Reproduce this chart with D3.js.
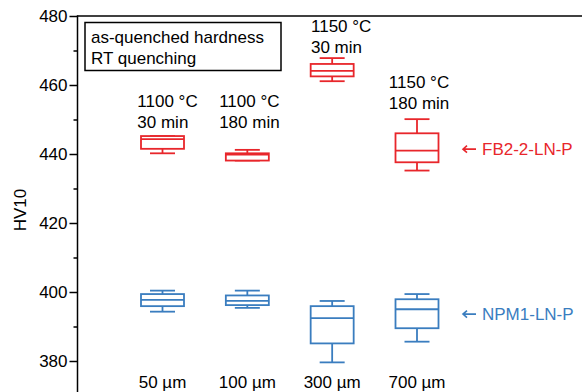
<!DOCTYPE html>
<meta charset="utf-8">
<script src="https://d3js.org/d3.v7.min.js"></script>
<style>
  body { margin: 0; background: #fff; }
  text { font-family: "Liberation Sans", Arial, sans-serif; }
</style>
<body>
<svg width="582" height="392"></svg>
<script>

    // grain size categories along x
    var groups = ["50 µm", "100 µm", "300 µm", "700 µm"];

    // heat treatment labels above the red boxes, and the HV level of the first line
    var condTemp = ["1100 °C", "1100 °C", "1150 °C", "1150 °C"];
    var condTime = ["30 min", "180 min", "30 min", "180 min"];
    var condLevel = [453.6, 453.6, 475.3, 459.0];

    // FB2-2-LN-P box stats
    var fb2Min = [440.2, 438.1, 461.1, 435.2];
    var fb2Q1  = [441.5, 438.1, 462.5, 437.6];
    var fb2Med = [444.3, 439.8, 464.1, 441.0];
    var fb2Q3  = [445.2, 440.2, 466.1, 446.0];
    var fb2Max = [445.2, 441.2, 467.8, 450.1];

    // NPM1-LN-P box stats
    var npmMin = [394.3, 395.4, 379.6, 385.6];
    var npmQ1  = [395.9, 396.2, 385.1, 389.5];
    var npmMed = [397.7, 397.4, 392.4, 395.0];
    var npmQ3  = [399.4, 399.0, 395.9, 397.9];
    var npmMax = [400.4, 400.4, 397.4, 399.4];

    var seriesNames  = ["FB2-2-LN-P", "NPM1-LN-P"];
    var seriesLevel  = [441.4, 393.6];
    var seriesColors = ["#e8262b", "#3a7dbf"];

    var majorTicks = [380, 400, 420, 440, 460, 480];
    var minorTicks = [370, 390, 410, 430, 450, 470];

    var svg = d3.select('svg');

    var y = d3.scaleLinear().domain([370, 480]).range([395.5, 16]);
    var x = d3.scalePoint().domain(groups).range([162.5, 417]);

    var boxHalf = 21.5, capHalf = 12.5;

    // ---------------- axis ----------------
    var axisX = 77.5;
    svg.append('g')
        .attr('transform', 'translate(' + axisX + ',0)')
        .call(d3.axisLeft(y).tickValues(majorTicks).tickSize(8).tickPadding(2).tickFormat(d3.format('d')))
        .call(function(g){
            g.select('.domain').remove();
            g.selectAll('line').attr('stroke', '#000').attr('stroke-width', 1.5);
            g.selectAll('text').attr('font-size', '17px').attr('fill', '#000')
             .attr('font-family', '"Liberation Sans", Arial, sans-serif');
        });

    svg.append('g')
        .attr('transform', 'translate(' + axisX + ',0)')
        .call(d3.axisLeft(y).tickValues(minorTicks).tickSize(4).tickFormat(''))
        .call(function(g){
            g.select('.domain').remove();
            g.selectAll('line').attr('stroke', '#000').attr('stroke-width', 1.5);
        });

    // left spine and top frame line
    svg.append('line').attr('x1', axisX).attr('x2', axisX)
        .attr('y1', y(480) - 0.75).attr('y2', 392)
        .attr('stroke', '#000').attr('stroke-width', 1.5);
    svg.append('line').attr('x1', axisX).attr('x2', 582)
        .attr('y1', y(480)).attr('y2', y(480))
        .attr('stroke', '#000').attr('stroke-width', 1.5);

    svg.append('text')
        .attr('transform', 'translate(26,' + 210 + ') rotate(-90)')
        .attr('text-anchor', 'middle')
        .attr('font-size', '17px')
        .text('HV10');

    // ---------------- legend box ----------------
    svg.append('rect').attr('x', 85).attr('y', 22.5).attr('width', 196).attr('height', 48)
        .attr('fill', 'none').attr('stroke', '#000').attr('stroke-width', 1.5);
    svg.append('text').attr('x', 91).attr('y', 43).attr('font-size', '17px').text('as-quenched hardness');
    svg.append('text').attr('x', 91).attr('y', 64).attr('font-size', '17px').text('RT quenching');

    // ---------------- boxes ----------------
    function buildRows(mn, q1, md, q3, mx) {
        return groups.map(function(g, i){
            return {g: g, min: mn[i], q1: q1[i], med: md[i], q3: q3[i], max: mx[i]};
        });
    }

    function drawBoxes(rows, color) {
        var g = svg.append('g').attr('stroke', color).attr('stroke-width', 1.8).attr('fill', 'none');
        var b = g.selectAll('g').data(rows).enter().append('g');

        // whisker stems
        b.append('line')
            .attr('x1', function(d){ return x(d.g); }).attr('x2', function(d){ return x(d.g); })
            .attr('y1', function(d){ return y(d.max); }).attr('y2', function(d){ return y(d.q3); });
        b.append('line')
            .attr('x1', function(d){ return x(d.g); }).attr('x2', function(d){ return x(d.g); })
            .attr('y1', function(d){ return y(d.q1); }).attr('y2', function(d){ return y(d.min); });
        // caps
        b.append('line')
            .attr('x1', function(d){ return x(d.g) - capHalf; }).attr('x2', function(d){ return x(d.g) + capHalf; })
            .attr('y1', function(d){ return y(d.max); }).attr('y2', function(d){ return y(d.max); });
        b.append('line')
            .attr('x1', function(d){ return x(d.g) - capHalf; }).attr('x2', function(d){ return x(d.g) + capHalf; })
            .attr('y1', function(d){ return y(d.min); }).attr('y2', function(d){ return y(d.min); });
        // box
        b.append('rect')
            .attr('x', function(d){ return x(d.g) - boxHalf; })
            .attr('width', boxHalf * 2)
            .attr('y', function(d){ return y(d.q3); })
            .attr('height', function(d){ return Math.max(1, y(d.q1) - y(d.q3)); })
            .attr('fill', '#fff');
        // median
        b.append('line')
            .attr('x1', function(d){ return x(d.g) - boxHalf; }).attr('x2', function(d){ return x(d.g) + boxHalf; })
            .attr('y1', function(d){ return y(d.med); }).attr('y2', function(d){ return y(d.med); });
    }

    drawBoxes(buildRows(fb2Min, fb2Q1, fb2Med, fb2Q3, fb2Max), seriesColors[0]);
    drawBoxes(buildRows(npmMin, npmQ1, npmMed, npmQ3, npmMax), seriesColors[1]);

    // ---------------- annotations ----------------
    var cond = svg.append('g').attr('font-size', '17px').attr('fill', '#000');
    groups.forEach(function(g, i){
        var cx = x(g) + (i == 0 ? 5 : (i == 2 ? 9 : 2));
        var t = cond.append('text')
            .attr('x', cx)
            .attr('y', y(condLevel[i]))
            .attr('text-anchor', 'middle');
        t.append('tspan').attr('x', cx).text(condTemp[i]);
        t.append('tspan').attr('x', cx).attr('dy', 20.5).text(condTime[i]);
    });
    // time lines align left with temperature in reference
    cond.selectAll('text').each(function(){
        var ts = d3.select(this).selectAll('tspan').nodes();
        var bb = ts[0].getBBox();
        d3.select(ts[1]).attr('text-anchor', 'start').attr('x', bb.x);
    });

    svg.append('g').attr('font-size', '17px')
        .selectAll('text').data(groups).enter().append('text')
        .attr('x', function(d){ return x(d); })
        .attr('y', 388)
        .attr('text-anchor', 'middle')
        .text(function(d){ return d; });

    // series labels with a left arrow
    var sl = svg.append('g').selectAll('g').data(seriesNames).enter().append('g')
        .attr('fill', function(d, i){ return seriesColors[i]; })
        .attr('stroke', function(d, i){ return seriesColors[i]; });
    sl.append('path')
        .attr('fill', 'none')
        .attr('stroke-width', 1.6)
        .attr('d', function(d, i){
            var yy = y(seriesLevel[i]);
            return 'M463,' + yy + 'H476 M467,' + (yy - 3.5) + 'L463,' + yy + 'L467,' + (yy + 3.5);
        });
    sl.append('text')
        .attr('x', 482)
        .attr('y', function(d, i){ return y(seriesLevel[i]) + 6; })
        .attr('stroke', 'none')
        .attr('font-size', '17px')
        .text(function(d){ return d; });

</script>
</body>
